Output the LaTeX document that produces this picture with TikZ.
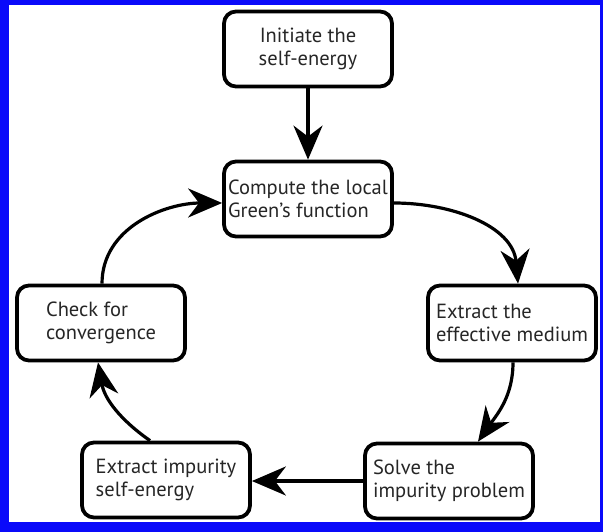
\documentclass[tikz,border=0pt]{standalone}
\usepackage{fontspec}
\setmainfont{PT Sans}
\usetikzlibrary{arrows.meta}
\definecolor{framefill}{RGB}{10,10,250}
\tikzset{
    stepbox/.style={draw=black, line width=3.8pt, rounded corners=12pt, fill=white,
        minimum width=168pt, minimum height=75pt, align=left, inner sep=2pt,
        text=black!85, font=\fontsize{20.5}{23.5}\selectfont},
    flow/.style={line width=3.2pt, -{Stealth[length=34pt,width=29pt,inset=11pt]}}
}
\begin{document}
\begin{tikzpicture}[x=1pt,y=-1pt]
    \fill[framefill] (0,0) rectangle (603,532);
    \fill[white] (9,5) rectangle (600,522);
    \useasboundingbox (0,0) rectangle (603,532);
    \node[stepbox, align=center] (init) at (308,49) {Initiate the\\self-energy};
    \node[stepbox] (green) at (308,199) {Compute the local\\Green’s function};
    \node[stepbox] (medium) at (512,323) {Extract the\\effective medium};
    \node[stepbox] (solve) at (449,481) {Solve the\\impurity problem};
    \node[stepbox] (sigma) at (166,480) {Extract impurity\\self-energy};
    \node[stepbox] (check) at (101,323) {Check for\\convergence};
    \draw[flow] (init) -- (green);
    \draw[flow] ([yshift=-4pt]green.east) to[out=0,in=95] ([xshift=6pt]medium.north);
    \draw[flow] ([xshift=1pt]medium.south) to[out=-90,in=55] ([xshift=29pt]solve.north);
    \draw[flow] (solve.west) -- (sigma.east |- solve.west);
    \draw[flow] ([xshift=-16pt]sigma.north) to[out=145,in=-80] ([xshift=-3pt]check.south);
    \draw[flow] ([xshift=1pt]check.north) to[out=90,in=180] ([yshift=-4pt]green.west);
\end{tikzpicture}
\end{document}
